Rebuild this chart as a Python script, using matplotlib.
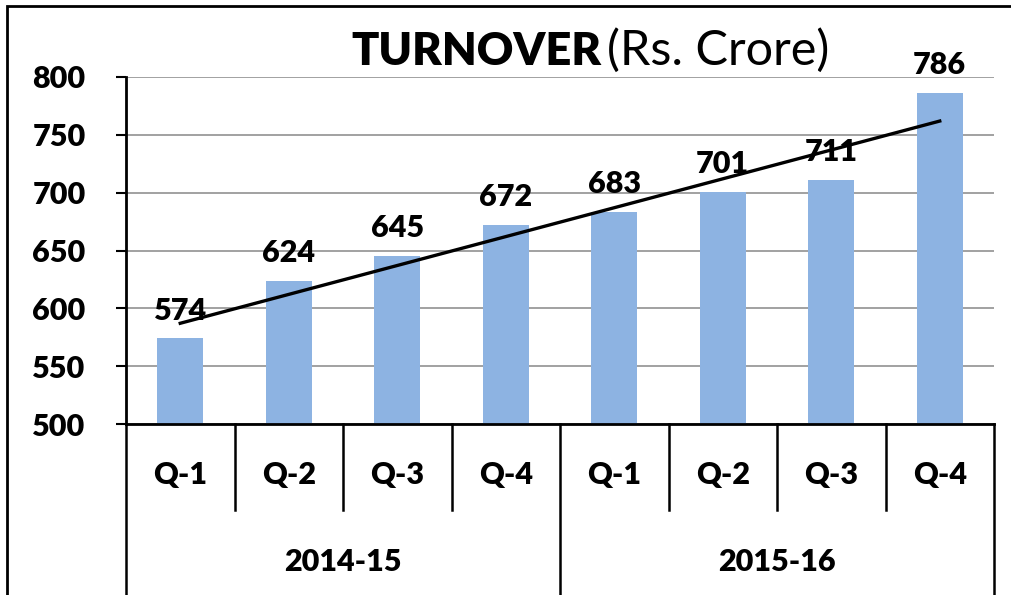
import matplotlib.pyplot as plt
from matplotlib.patches import Rectangle
import numpy as np

quarters = ["Q-1", "Q-2", "Q-3", "Q-4", "Q-1", "Q-2", "Q-3", "Q-4"]
years = ["2014-15", "2015-16"]
turnover = [574, 624, 645, 672, 683, 701, 711, 786]

plt.rcParams['font.family'] = ['Lato', 'DejaVu Sans']
BOLD = 'heavy'
FS = 22

W, H = 1012, 595
fig = plt.figure(figsize=(W / 100, H / 100), dpi=100)
ax = fig.add_axes([126 / W, (H - 424) / H, (994 - 126) / W, (424 - 77) / H])

x = np.arange(len(turnover))
ax.bar(x, turnover, width=0.42, color='#8db3e2', zorder=2)

# linear trend line over all quarters
k, b = np.polyfit(x, turnover, 1)
ax.plot([x[0], x[-1]], [k * x[0] + b, k * x[-1] + b], color='black', lw=2.4, zorder=3)

for xi, v in zip(x, turnover):
    ax.annotate(str(v), (xi, v), xytext=(0, 10), textcoords='offset points',
                ha='center', va='bottom', fontsize=FS, fontweight=BOLD, zorder=4)

ax.set_xlim(-0.5, len(turnover) - 0.5)
ax.set_ylim(500, 800)
ax.set_yticks(range(500, 801, 50))
ax.set_xticks([])
ax.tick_params(axis='y', labelsize=FS, length=7, width=1.5, pad=22)
for lab in ax.get_yticklabels():
    lab.set_fontweight(BOLD)
ax.yaxis.grid(True, color='#9a9a9a', lw=1.3, zorder=0)
ax.set_axisbelow(True)
for s in ['top', 'right']:
    ax.spines[s].set_visible(False)
ax.spines['left'].set_linewidth(2)
ax.spines['bottom'].set_linewidth(2)

# multi-level category axis
tr = ax.get_xaxis_transform()
q_depth = -86 / 347
y_depth = -175 / 347
for i in range(len(quarters) + 1):
    bx = i - 0.5
    bottom = y_depth if i % 4 == 0 else q_depth
    ax.plot([bx, bx], [0, bottom], transform=tr, color='black', lw=1.8, clip_on=False)
for xi, q in zip(x, quarters):
    ax.text(xi, -51 / 347, q, transform=tr, ha='center', va='center',
            fontsize=FS, fontweight=BOLD)
for j, yr in enumerate(years):
    ax.text(j * 4 + 1.5, -138 / 347, yr, transform=tr, ha='center', va='center',
            fontsize=FS, fontweight=BOLD)

# title
fig.text(601 / W, 1 - 65 / H, "TURNOVER", ha='right', va='baseline',
         fontsize=32.5, fontweight=BOLD)
fig.text(607 / W, 1 - 65 / H, "(Rs. Crore)", ha='left', va='baseline', fontsize=35)

# outer chart border
fig.patches.append(Rectangle((7 / W, -0.1), 1.2, 1.1 - 6 / H, transform=fig.transFigure,
                             fill=False, edgecolor='black', lw=2))

fig.savefig('out.png', dpi=100)
